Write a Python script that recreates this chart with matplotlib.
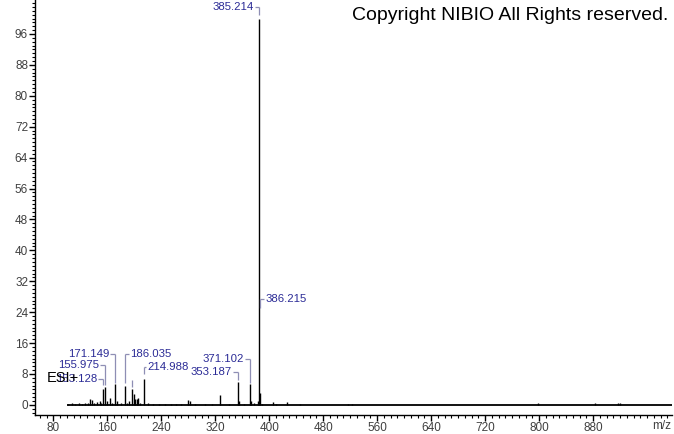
import numpy as np
import matplotlib
matplotlib.use('Agg')
import matplotlib.pyplot as plt
from matplotlib.ticker import MultipleLocator

plt.rcParams['font.family'] = ['Liberation Sans', 'DejaVu Sans']

# peak list (m/z, relative intensity %)
peak_mz = [102, 108, 112, 118, 122, 127, 131, 134.8, 137.3, 141, 145, 148.6, 151,
           153.1, 156.0, 159.5, 164.4, 166.5, 171.1, 175, 180, 186.0, 189, 192,
           196.8, 199.5, 201.5, 204, 206, 209, 215.0, 220, 228, 236, 245, 255,
           262, 270, 279, 282, 290, 305, 315, 326.4, 340, 353.2, 355, 362,
           371.1, 373, 378, 384, 385.2, 386.2, 390, 406.4, 410, 427, 445.9,
           516.6, 522.5, 798, 883, 916.5, 920]
peak_int = [0.3, 0.4, 0.3, 0.5, 0.3, 0.6, 0.5, 1.5, 1.2, 0.6, 0.8, 1.1, 0.5,
            4.0, 4.6, 1.0, 1.9, 0.6, 5.3, 0.9, 0.4, 4.9, 0.5, 1.0,
            4.0, 2.9, 1.5, 1.5, 1.7, 0.6, 6.7, 0.4, 0.3, 0.3, 0.3, 0.3,
            0.3, 0.3, 1.3, 1.0, 0.3, 0.3, 0.3, 2.6, 0.3, 5.8, 1.0, 0.3,
            5.3, 1.0, 0.4, 0.9, 100.0, 3.0, 0.3, 0.8, 0.3, 0.8, 0.3,
            0.3, 0.3, 0.4, 0.4, 0.4, 0.4]

# labelled peaks: m/z, text, side of text, height of text, where the leader stops
label_mz = [385.214, 386.215, 153.128, 155.975, 171.149, 186.035, 214.988, 353.187, 371.102, 196.8]
label_text = ['385.214', '386.215', '153.128', '155.975', '171.149', '186.035', '214.988', '353.187', '371.102', '']
label_side = ['l', 'r', 'l', 'l', 'l', 'r', 'r', 'l', 'l', 'l']
label_y = [102.9, 27.4, 6.7, 10.3, 13.2, 13.2, 9.8, 8.6, 11.9, 6.5]
leader_end = [101.0, 25.0, 5.2, 5.2, 5.7, 5.7, 7.9, 6.5, 5.7, 4.7]

LABEL_COLOR = '#2b2b96'
LEADER_COLOR = '#8e8eb4'
TICK_COLOR = '#404040'

fig = plt.figure(figsize=(6.74, 4.34), dpi=100)
ax = fig.add_axes([0.052, 0.044, 0.945, 0.956])

ax.hlines(0, 100, 1000, color='black', linewidth=1.3)
ax.vlines(peak_mz, 0, peak_int, color='black', linewidth=1.0)

for mz, txt, side, ly, le in zip(label_mz, label_text, label_side, label_y, leader_end):
    sgn = -1 if side == 'l' else 1
    gap = 4 if txt == '214.988' else 8
    if txt:
        ax.hlines(ly, mz, mz + sgn * (gap - 1.5), color=LEADER_COLOR, linewidth=0.9)
        ax.text(mz + sgn * gap, ly, txt, ha='right' if side == 'l' else 'left',
                va='center', fontsize=8.2, color=LABEL_COLOR)
    ax.vlines(mz, le, ly, color=LEADER_COLOR, linewidth=0.9)

ax.text(71, 7, 'ESI+', fontsize=10.5, color='black', va='center', ha='left')
fig.text(668 / 674, 1 - 15 / 434, 'Copyright NIBIO All Rights reserved.',
         ha='right', va='center', fontsize=14, color='black')

ax.set_xlim(53, 997)
ax.set_ylim(-2.6, 104.8)
ax.xaxis.set_major_locator(MultipleLocator(80))
ax.xaxis.set_minor_locator(MultipleLocator(10))
ax.yaxis.set_major_locator(MultipleLocator(8))
ax.yaxis.set_minor_locator(MultipleLocator(1))
ax.set_xticks(range(80, 881, 80))
ax.set_yticks(range(0, 97, 8))
ax.text(982, -0.012, 'm/z', transform=ax.get_xaxis_transform(), ha='center', va='top',
        fontsize=8.5, color=TICK_COLOR)

for s in ['top', 'right']:
    ax.spines[s].set_visible(False)
ax.spines['left'].set_linewidth(1.0)
ax.spines['bottom'].set_linewidth(1.0)
ax.tick_params(which='major', length=4, width=1, labelsize=8.5, labelcolor=TICK_COLOR, pad=1)
ax.tick_params(which='minor', length=2.5, width=0.8)

fig.savefig('out.png', dpi=100)
